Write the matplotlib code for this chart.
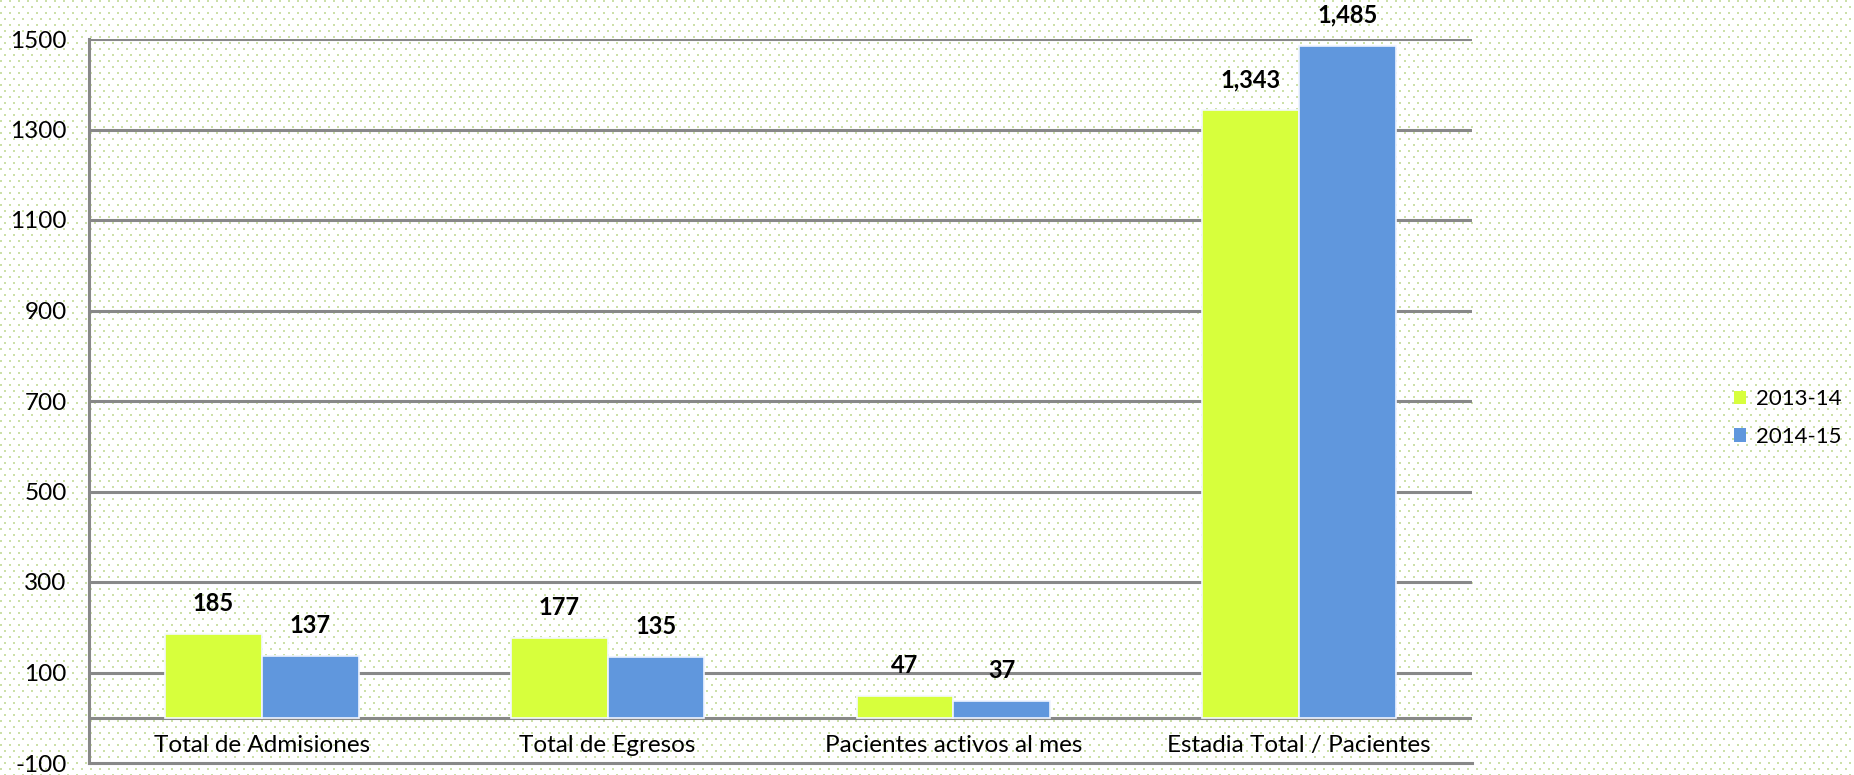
import numpy as np
import matplotlib
matplotlib.use("Agg")
import matplotlib.pyplot as plt
from matplotlib.patches import Patch

# data
categories = ["Total de Admisiones", "Total de Egresos",
              "Pacientes activos al mes", "Estadia Total / Pacientes"]
series_names = ["2013-14", "2014-15"]
vals_2013 = [185, 177, 47, 1343]
vals_2014 = [137, 135, 37, 1485]
yticks = [-100, 100, 300, 500, 700, 900, 1100, 1300, 1500]

green = "#d7ff3c"
blue = "#6097dd"
grid_col = "#888888"

plt.rcParams["font.family"] = ["Lato", "DejaVu Sans"]
plt.rcParams["axes.unicode_minus"] = False

W, H = 1854, 775
fig = plt.figure(figsize=(W / 100, H / 100), dpi=100)

# dotted paper background
bg = np.ones((H, W, 3))
dot = np.array([0.80, 0.88, 0.66])
for r in range(0, H, 6):
    off = 0 if (r // 6) % 2 == 0 else 4
    for c in range(off, W, 9):
        bg[r:r + 2, c:c + 2] = dot
fig.figimage(bg, xo=0, yo=0, zorder=-10, origin="upper")

ax = fig.add_axes([89 / W, 1 - 763 / H, (1472 - 89) / W, (763 - 39) / H])
ax.set_facecolor("none")

x = np.arange(len(categories))
w = 0.28
b1 = ax.bar(x - w / 2, vals_2013, w, color=green, edgecolor="#f4f8ff", linewidth=1.2, zorder=3)
b2 = ax.bar(x + w / 2, vals_2014, w, color=blue, edgecolor="#eef4ff", linewidth=1.2, zorder=3)

for bars, vals in [(b1, vals_2013), (b2, vals_2014)]:
    for rect, v in zip(bars, vals):
        ax.text(rect.get_x() + rect.get_width() / 2, v + 42, f"{v:,}",
                ha="center", va="bottom", fontsize=17, fontweight="bold", zorder=4)

ax.set_xlim(-0.5, len(categories) - 0.5)
ax.set_ylim(-100, 1500)
ax.set_yticks(yticks)
ax.tick_params(axis="y", length=0, labelsize=17.5, pad=16)
ax.set_xticks([])

# gridlines incl. zero baseline
for yv in [0] + yticks[1:]:
    ax.axhline(yv, color=grid_col, linewidth=2.2, zorder=1)

for s in ["top", "right"]:
    ax.spines[s].set_visible(False)
for s in ["left", "bottom"]:
    ax.spines[s].set_color(grid_col)
    ax.spines[s].set_linewidth(2.2)

for i, cat in enumerate(categories):
    ax.text(i, -62, cat, ha="center", va="center", fontsize=17.5)

handles = [Patch(facecolor=green), Patch(facecolor=blue)]
fig.legend(handles, series_names, loc="center left", bbox_to_anchor=(1718 / W, 1 - 418 / H),
           frameon=False, fontsize=16, handlelength=0.55, handleheight=0.55,
           handletextpad=0.45, labelspacing=0.8, borderpad=0.2)

fig.savefig("out.png", dpi=100)
